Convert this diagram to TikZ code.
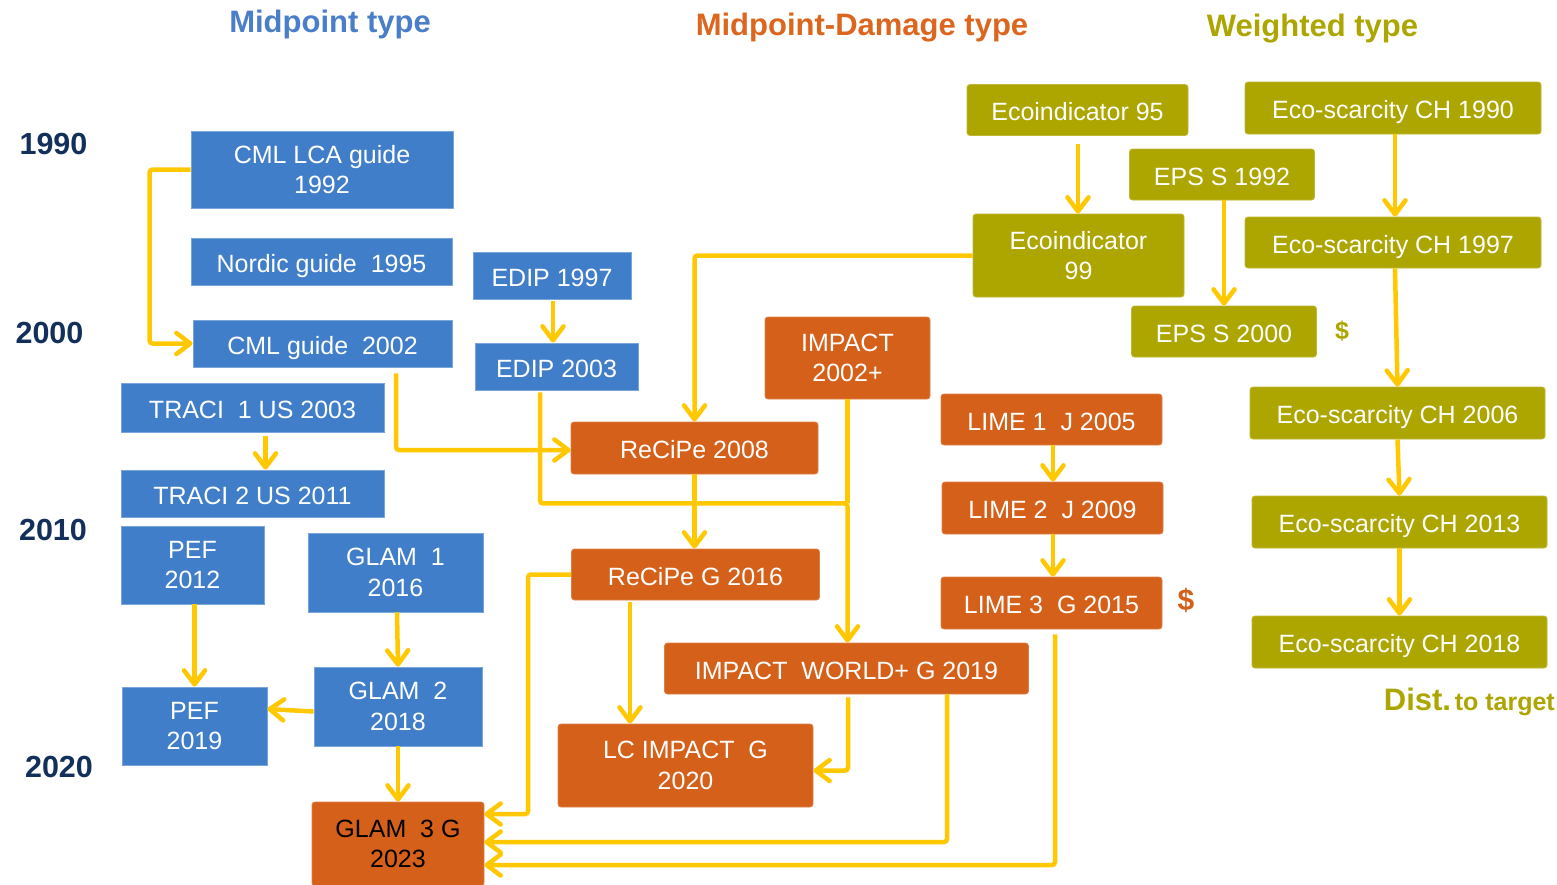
\documentclass[tikz,border=0pt]{standalone}
\usepackage{fontspec}
\setmainfont{Liberation Sans}
\usetikzlibrary{arrows.meta}
\definecolor{bbl}{HTML}{417EC9}
\definecolor{orn}{HTML}{D5601A}
\definecolor{olv}{HTML}{ADA500}
\definecolor{ylw}{HTML}{FFC800}
\definecolor{tblue}{HTML}{4A7EC8}
\definecolor{torange}{HTML}{DC661E}
\definecolor{tolive}{HTML}{ADA500}
\definecolor{navy}{HTML}{12305A}
\tikzset{
 box/.style={inner sep=0pt, align=center, text=white, font=\fontsize{25}{30.5}\selectfont},
 bluebox/.style={box, fill=bbl, draw=bbl!70!white, line width=0.8pt},
 orangebox/.style={box, fill=orn, draw=orn!80!white, line width=0.8pt, rounded corners=3pt},
 olivebox/.style={box, fill=olv, draw=olv!80!white, line width=0.8pt, rounded corners=3pt},
 one/.style={text height=21pt, text depth=0pt},
 sz/.style 2 args={minimum width=#1pt, minimum height=#2pt},
 conn/.style={draw=ylw, line width=4.5pt, rounded corners=3pt},
 arr/.style={conn, -{Straight Barb[length=14pt,width=21pt,round]}},
 yearlbl/.style={font=\bfseries\fontsize{30.5}{30.5}\selectfont, text=navy, anchor=base, inner sep=0pt},
 ttl/.style={font=\bfseries\fontsize{31}{31}\selectfont, anchor=base, inner sep=0pt},
}
\begin{document}
\begin{tikzpicture}[x=1pt,y=-1pt]
\useasboundingbox[fill=white] (0,0) rectangle (1557,884);

% titles
\node[ttl, text=tblue] (tmid) at (330,32) {Midpoint type};
\node[ttl, text=torange] (tmd) at (862,35) {Midpoint-Damage type};
\node[ttl, text=tolive] (tw) at (1312.5,36) {Weighted type};

% years
\node[yearlbl] (y1990) at (53.5,154) {1990};
\node[yearlbl] (y2000) at (49.5,343) {2000};
\node[yearlbl] (y2010) at (53,540) {2010};
\node[yearlbl] (y2020) at (59,777) {2020};

% blue boxes
\node[bluebox, sz={262}{77}] (cml92) at (322,169.5) {CML LCA guide\\1992};
\node[bluebox, one, sz={261}{47}] (nordic) at (321.5,261.5) {Nordic guide\ \ 1995};
\node[bluebox, one, sz={259}{47}] (cml02) at (322.5,343.5) {CML guide\ \ 2002};
\node[bluebox, one, sz={263}{49}] (traci1) at (252.5,407.5) {TRACI\ \ 1 US 2003};
\node[bluebox, one, sz={263}{47}] (traci2) at (252.5,493.5) {TRACI 2 US 2011};
\node[bluebox, sz={143}{78}] (pef12) at (192.5,565) {PEF\\2012};
\node[bluebox, sz={175}{79}] (glam1) at (395.5,572.5) {GLAM\ \ 1\\2016};
\node[bluebox, sz={145}{78}] (pef19) at (194.5,726) {PEF\\2019};
\node[bluebox, sz={168}{79}] (glam2) at (398,706.5) {GLAM\ \ 2\\2018};
\node[bluebox, one, sz={158}{47}] (edip97) at (552,275.5) {EDIP\ 1997};
\node[bluebox, one, sz={163}{47}] (edip03) at (556.5,366.5) {EDIP\ 2003};

% orange boxes
\node[orangebox, sz={172}{84}, text=black] (glam3) at (398,844) {GLAM\ \ 3 G\\2023};
\node[orangebox, sz={165}{82}] (imp02) at (847.5,358) {IMPACT\\2002+};
\node[orangebox, one, sz={247}{52}] (recipe08) at (694.5,448) {ReCiPe 2008};
\node[orangebox, one, sz={248}{51}] (recipe16) at (695.5,574.5) {ReCiPe G 2016};
\node[orangebox, one, sz={364}{51}] (iwp) at (846.5,668.5) {IMPACT\ \ WORLD+ G 2019};
\node[orangebox, sz={255}{83}] (lcimp) at (685.5,765.5) {LC IMPACT\ \ G\\2020};
\node[orangebox, one, sz={221}{51}] (lime1) at (1051.5,419.5) {LIME 1\ \ J 2005};
\node[orangebox, one, sz={221}{52}] (lime2) at (1052.5,508) {LIME 2\ \ J 2009};
\node[orangebox, one, sz={221}{52}] (lime3) at (1051.5,603) {LIME 3\ \ G 2015};
\node[font=\bfseries\fontsize{30}{30}\selectfont, text=orn, inner sep=0pt] (dol1) at (1186,600) {\$};

% olive boxes
\node[olivebox, one, sz={221}{51}] (eco95) at (1077.5,110) {Ecoindicator 95};
\node[olivebox, one, sz={296}{52}] (es90) at (1393,108) {Eco-scarcity CH 1990};
\node[olivebox, one, sz={185}{51}] (eps92) at (1222,174.5) {EPS S 1992};
\node[olivebox, sz={211}{83}] (eco99) at (1078.5,255.5) {Ecoindicator\\99};
\node[olivebox, one, sz={296}{51}] (es97) at (1393,242.5) {Eco-scarcity CH 1997};
\node[olivebox, one, sz={185}{51}] (eps00) at (1224,331.5) {EPS S 2000};
\node[font=\bfseries\fontsize{25}{25}\selectfont, text=olv, inner sep=0pt] (dol2) at (1342,331) {\$};
\node[olivebox, one, sz={295}{52}] (es06) at (1397.5,413) {Eco-scarcity CH 2006};
\node[olivebox, one, sz={295}{52}] (es13) at (1399.5,522) {Eco-scarcity CH 2013};
\node[olivebox, one, sz={295}{52}] (es18) at (1399.5,642) {Eco-scarcity CH 2018};
\node[anchor=base east, inner sep=0pt, text=tolive, font=\bfseries] (dist) at (1555,710)
  {{\fontsize{31}{31}\selectfont Dist.} {\fontsize{25}{25}\selectfont to target}};

% connectors
\draw[arr] (cml92.west) -- ++(-41,0) |- (cml02.west);
\draw[arr] ([xshift=13pt,yshift=-4pt]traci1.south) -- ([xshift=13pt]traci1.south |- traci2.north);
\draw[arr] ([xshift=1pt,yshift=-2pt]edip97.south) -- ([xshift=1pt]edip97.south |- edip03.north);
\draw[arr] ([xshift=73.5pt,yshift=-6pt]cml02.south) |- ([yshift=-2pt]recipe08.west);
\draw[conn] (imp02.south) -- ([yshift=-104pt]imp02.south);
\draw[arr] ([xshift=-16.5pt,yshift=-2pt]edip03.south) |- ([yshift=-104pt]imp02.south) -- (imp02.south |- iwp.north);
\draw[arr] (eco99.west) -| (recipe08.north);
\draw[arr] (recipe08.south) -- (recipe08.south |- recipe16.north);
\draw[arr] (recipe16.west) -- ++(-43,0) |- ([yshift=30pt]glam3.east);
\draw[arr] ([xshift=-65.5pt,yshift=-2pt]recipe16.south) -- ([xshift=-65.5pt]recipe16.south |- lcimp.north);
\draw[arr] ([xshift=1.5pt,yshift=-3pt]iwp.south) |- ([yshift=-5pt]lcimp.east);
\draw[arr] ([xshift=100.5pt]iwp.south) |- ([yshift=2pt]glam3.east);
\draw[arr] ([xshift=3.5pt,yshift=-5pt]lime3.south) |- ([yshift=-21pt]glam3.east);
\draw[arr] ([xshift=1.5pt]lime1.south) -- ([xshift=1.5pt]lime1.south |- lime2.north);
\draw[arr] ([xshift=0.5pt]lime2.south) -- ([xshift=0.5pt]lime2.south |- lime3.north);
\draw[arr] ([xshift=0.5pt,yshift=-8pt]eco95.south) -- ([xshift=0.5pt]eco95.south |- eco99.north);
\draw[arr] ([xshift=2pt]eps92.south) -- ([xshift=2pt]eps92.south |- eps00.north);
\draw[arr] ([xshift=2pt]es90.south) -- ([xshift=2pt]es90.south |- es97.north);
\draw[arr] ([xshift=2pt]es97.south) -- (es06.north);
\draw[arr] (es06.south) -- (es13.north);
\draw[arr] (es13.south) -- (es18.north);
\draw[arr] (pef19.north |- pef12.south) -- (pef19.north);
\draw[arr] ([xshift=1.5pt]glam1.south) -- (glam2.north);
\draw[arr] ([yshift=-5pt]glam2.west) -- ([yshift=17pt]pef19.east);
\draw[arr] (glam2.south) -- (glam3.north);
\end{tikzpicture}
\end{document}
